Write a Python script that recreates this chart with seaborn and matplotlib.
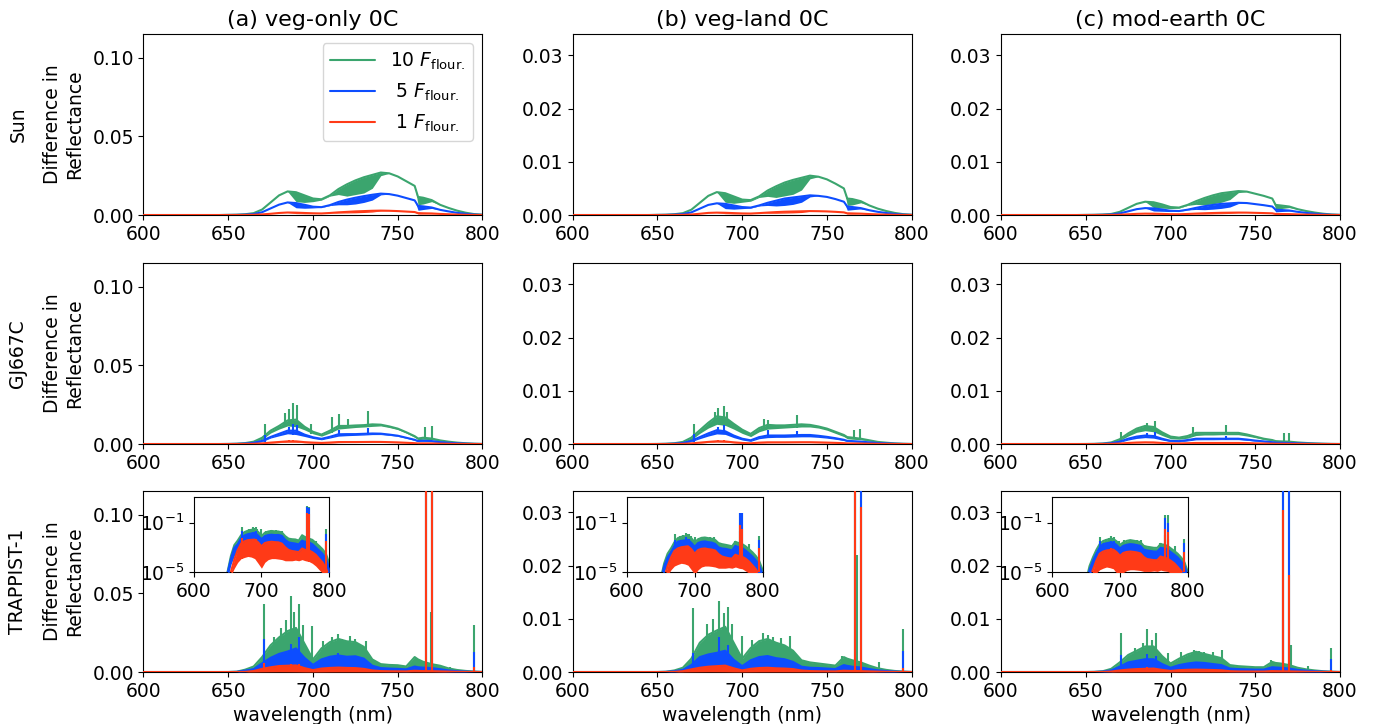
import numpy as np
import matplotlib
matplotlib.use("Agg")
import matplotlib.pyplot as plt
import seaborn as sns
from matplotlib.ticker import NullLocator, FormatStrFormatter

sns.set_style("ticks", {"axes.edgecolor": "black", "text.color": "black",
                        "xtick.color": "black", "ytick.color": "black",
                        "axes.labelcolor": "black"})
plt.rcParams["font.family"] = ["DejaVu Sans"]
plt.rcParams["font.size"] = 13.5

# ---------------- data (values in units of 1e-3 reflectance) ----------------
SCALE = 1e-3
WL = [600, 645, 650, 655, 660, 665, 670, 675, 680, 685, 690, 695, 700, 705, 710,
      715, 720, 725, 730, 735, 740, 745, 750, 755, 760, 762, 765, 770, 775, 780,
      785, 790, 795, 800]

COLUMN_TITLES = ["(a) veg-only 0C", "(b) veg-land 0C", "(c) mod-earth 0C"]
STARS = ["Sun", "GJ667C", "TRAPPIST-1"]
SERIES_LABELS = ["10 $F_{\\rm flour.}$", " 5 $F_{\\rm flour.}$", " 1 $F_{\\rm flour.}$"]
COLORS = ["#3BA56E", "#0D4DFF", "#FF3A17"]
YMAX = [0.115, 0.034, 0.034]
Y_TICKS = [[0.0, 0.05, 0.10], [0.0, 0.01, 0.02, 0.03], [0.0, 0.01, 0.02, 0.03]]
X_TICKS = [600, 650, 700, 750, 800]

# --- Sun ---
SUN_A_G_HI = [0, 0, 0.1, 0.2, 0.5, 1.2, 3.5, 8.0, 12.5, 15.0, 14.5, 12.5, 10.5, 10.0, 12.5, 16.5, 19.5, 22.0, 24.0, 25.5, 27.0, 26.5, 24.5, 21.5, 18.5, 11.5, 11.0, 9.5, 6.5, 4.5, 2.8, 1.5, 0.6, 0.2]
SUN_A_G_LO = [0, 0, 0.1, 0.2, 0.5, 1.2, 3.5, 8.0, 12.5, 15.0, 8.5, 8.0, 8.5, 9.5, 12.0, 13.0, 12.0, 13.0, 14.0, 17.0, 25.0, 26.5, 24.5, 21.5, 18.5, 6.5, 7.0, 8.5, 6.5, 4.5, 2.8, 1.5, 0.6, 0.2]
SUN_A_B_HI = [0, 0, 0.05, 0.1, 0.25, 0.6, 1.8, 4.2, 6.6, 8.0, 7.6, 6.5, 5.3, 5.0, 6.3, 8.3, 9.8, 11.0, 12.0, 12.9, 13.6, 13.3, 12.3, 10.8, 9.3, 5.8, 5.5, 4.8, 3.3, 2.3, 1.4, 0.8, 0.3, 0.1]
SUN_A_B_LO = [0, 0, 0.05, 0.1, 0.25, 0.6, 1.8, 4.2, 6.6, 8.0, 4.6, 4.3, 4.5, 4.8, 6.0, 6.5, 6.5, 7.0, 8.0, 9.5, 12.8, 13.3, 12.3, 10.8, 9.3, 3.0, 3.5, 4.2, 3.3, 2.3, 1.4, 0.8, 0.3, 0.1]
SUN_A_R_HI = [0, 0, 0.01, 0.02, 0.05, 0.15, 0.4, 0.8, 1.3, 1.6, 1.5, 1.3, 1.1, 1.0, 1.3, 1.7, 2.0, 2.3, 2.5, 2.7, 2.8, 2.7, 2.5, 2.2, 1.9, 1.2, 1.1, 1.0, 0.7, 0.5, 0.3, 0.15, 0.06, 0.02]
SUN_A_R_LO = [0, 0, 0.01, 0.02, 0.05, 0.15, 0.4, 0.8, 1.3, 1.6, 0.9, 0.8, 0.9, 0.95, 1.2, 1.3, 1.3, 1.4, 1.6, 1.9, 2.6, 2.7, 2.5, 2.2, 1.9, 0.6, 0.7, 0.8, 0.7, 0.5, 0.3, 0.15, 0.06, 0.02]

SUN_B_G_HI = [0, 0, 0.03, 0.06, 0.15, 0.35, 1.0, 2.3, 3.6, 4.3, 4.1, 3.5, 2.9, 2.8, 3.5, 4.6, 5.4, 6.1, 6.6, 7.0, 7.4, 7.2, 6.7, 5.9, 5.0, 3.1, 3.0, 2.6, 1.8, 1.2, 0.75, 0.4, 0.16, 0.05]
SUN_B_G_LO = [0, 0, 0.03, 0.06, 0.15, 0.35, 1.0, 2.3, 3.6, 4.3, 2.4, 2.2, 2.4, 2.6, 3.3, 3.5, 3.3, 3.6, 3.9, 4.7, 6.8, 7.2, 6.7, 5.9, 5.0, 1.8, 1.9, 2.3, 1.8, 1.2, 0.75, 0.4, 0.16, 0.05]
SUN_B_B_HI = [0, 0, 0.015, 0.03, 0.08, 0.18, 0.5, 1.2, 1.9, 2.2, 2.1, 1.8, 1.5, 1.4, 1.8, 2.3, 2.7, 3.1, 3.3, 3.5, 3.7, 3.6, 3.4, 3.0, 2.5, 1.6, 1.5, 1.3, 0.9, 0.6, 0.38, 0.2, 0.08, 0.03]
SUN_B_B_LO = [0, 0, 0.015, 0.03, 0.08, 0.18, 0.5, 1.2, 1.9, 2.2, 1.2, 1.1, 1.2, 1.3, 1.7, 1.8, 1.7, 1.8, 2.0, 2.4, 3.4, 3.6, 3.4, 3.0, 2.5, 0.9, 1.0, 1.15, 0.9, 0.6, 0.38, 0.2, 0.08, 0.03]
SUN_B_R_HI = [0, 0, 0.003, 0.006, 0.016, 0.036, 0.1, 0.24, 0.4, 0.45, 0.42, 0.36, 0.3, 0.28, 0.36, 0.46, 0.55, 0.62, 0.66, 0.7, 0.74, 0.72, 0.68, 0.6, 0.5, 0.32, 0.3, 0.26, 0.18, 0.12, 0.08, 0.04, 0.016, 0.006]
SUN_B_R_LO = [0, 0, 0.003, 0.006, 0.016, 0.036, 0.1, 0.24, 0.4, 0.45, 0.25, 0.22, 0.24, 0.26, 0.34, 0.35, 0.33, 0.36, 0.4, 0.47, 0.7, 0.72, 0.68, 0.6, 0.5, 0.18, 0.19, 0.23, 0.18, 0.12, 0.08, 0.04, 0.016, 0.006]

SUN_C_G_HI = [0, 0, 0.02, 0.04, 0.09, 0.2, 0.6, 1.35, 2.1, 2.5, 2.4, 2.0, 1.5, 1.4, 1.9, 2.6, 3.2, 3.7, 4.1, 4.3, 4.5, 4.4, 4.0, 3.6, 3.1, 1.9, 1.8, 1.6, 1.1, 0.75, 0.47, 0.25, 0.1, 0.03]
SUN_C_G_LO = [0, 0, 0.02, 0.04, 0.09, 0.2, 0.6, 1.35, 2.1, 2.5, 1.4, 1.3, 1.2, 1.3, 1.8, 2.0, 1.9, 2.1, 2.4, 2.9, 4.2, 4.4, 4.0, 3.6, 3.1, 1.1, 1.2, 1.4, 1.1, 0.75, 0.47, 0.25, 0.1, 0.03]
SUN_C_B_HI = [0, 0, 0.01, 0.02, 0.045, 0.1, 0.3, 0.7, 1.1, 1.3, 1.25, 1.05, 0.8, 0.75, 1.0, 1.35, 1.65, 1.9, 2.1, 2.2, 2.3, 2.25, 2.05, 1.85, 1.6, 1.0, 0.95, 0.85, 0.6, 0.4, 0.25, 0.13, 0.05, 0.02]
SUN_C_B_LO = [0, 0, 0.01, 0.02, 0.045, 0.1, 0.3, 0.7, 1.1, 1.3, 0.75, 0.7, 0.65, 0.7, 0.95, 1.05, 1.0, 1.1, 1.25, 1.5, 2.15, 2.25, 2.05, 1.85, 1.6, 0.6, 0.65, 0.75, 0.6, 0.4, 0.25, 0.13, 0.05, 0.02]
SUN_C_R_HI = [0, 0, 0.002, 0.004, 0.009, 0.02, 0.06, 0.14, 0.22, 0.26, 0.25, 0.21, 0.16, 0.15, 0.2, 0.27, 0.33, 0.38, 0.42, 0.44, 0.46, 0.45, 0.41, 0.37, 0.32, 0.2, 0.19, 0.17, 0.12, 0.08, 0.05, 0.026, 0.01, 0.004]
SUN_C_R_LO = [0, 0, 0.002, 0.004, 0.009, 0.02, 0.06, 0.14, 0.22, 0.26, 0.15, 0.14, 0.13, 0.14, 0.19, 0.21, 0.2, 0.22, 0.25, 0.3, 0.43, 0.45, 0.41, 0.37, 0.32, 0.12, 0.13, 0.15, 0.12, 0.08, 0.05, 0.026, 0.01, 0.004]

# --- GJ667C ---
GJ_A_G_HI = [0, 0, 0.05, 0.2, 0.6, 1.5, 4.0, 8.5, 11.5, 15.0, 15.5, 11.0, 7.8, 6.0, 8.5, 11.5, 11.5, 11.8, 12.0, 12.5, 12.3, 11.2, 9.8, 7.5, 5.0, 3.5, 4.0, 3.5, 2.3, 1.5, 0.9, 0.5, 0.2, 0.05]
GJ_A_G_LO = [0, 0, 0.05, 0.2, 0.6, 1.2, 3.0, 7.0, 9.5, 11.5, 11.0, 9.0, 6.5, 5.0, 7.0, 9.5, 10.0, 10.5, 10.8, 11.2, 11.5, 10.5, 9.2, 7.0, 4.3, 2.8, 3.0, 2.8, 2.0, 1.3, 0.8, 0.45, 0.2, 0.05]
GJ_A_B_HI = [0, 0, 0.03, 0.1, 0.3, 0.8, 2.0, 4.5, 6.5, 8.5, 8.5, 6.0, 4.3, 3.3, 4.6, 6.2, 6.3, 6.3, 6.5, 6.7, 6.6, 6.0, 5.3, 4.0, 2.7, 1.9, 2.1, 1.9, 1.2, 0.8, 0.5, 0.25, 0.1, 0.03]
GJ_A_B_LO = [0, 0, 0.03, 0.1, 0.3, 0.6, 1.5, 3.8, 5.2, 6.5, 6.0, 4.8, 3.5, 2.7, 3.8, 5.0, 5.3, 5.5, 5.7, 6.0, 6.0, 5.5, 4.9, 3.7, 2.3, 1.5, 1.6, 1.5, 1.0, 0.7, 0.45, 0.22, 0.1, 0.03]
GJ_A_R_HI = [0, 0, 0.006, 0.02, 0.06, 0.15, 0.4, 0.9, 1.3, 1.7, 1.7, 1.2, 0.9, 0.7, 0.95, 1.25, 1.27, 1.27, 1.3, 1.35, 1.33, 1.2, 1.05, 0.8, 0.55, 0.38, 0.42, 0.38, 0.25, 0.16, 0.1, 0.05, 0.02, 0.006]
GJ_A_R_LO = [0, 0, 0.006, 0.02, 0.06, 0.1, 0.28, 0.65, 0.9, 1.2, 1.15, 0.85, 0.65, 0.5, 0.7, 0.9, 0.95, 0.95, 1.0, 1.05, 1.05, 0.95, 0.85, 0.65, 0.42, 0.28, 0.3, 0.28, 0.2, 0.13, 0.08, 0.04, 0.02, 0.006]
GJ_A_G_SPK = [(671.5, 13.0), (683.5, 20.0), (686.0, 22.0), (688.0, 26.0), (690.5, 25.0), (699.0, 13.0), (711.5, 17.0), (715.5, 19.0), (720.5, 16.0), (732.5, 21.0), (766.0, 11.0), (770.0, 11.5)]
GJ_A_B_SPK = [(671.5, 5.5), (686.0, 11.0), (688.0, 13.0), (690.5, 12.0), (715.5, 9.0), (732.5, 10.5)]
GJ_A_R_SPK = [(686.0, 2.3), (688.0, 2.6)]

GJ_B_G_HI = [0, 0, 0.01, 0.05, 0.15, 0.4, 1.2, 2.6, 4.0, 5.2, 5.0, 3.8, 2.7, 1.9, 3.0, 3.6, 3.5, 3.5, 3.6, 3.7, 3.6, 3.3, 2.9, 2.3, 1.7, 1.3, 1.2, 1.0, 0.7, 0.4, 0.25, 0.12, 0.05, 0.01]
GJ_B_G_LO = [0, 0, 0.01, 0.05, 0.15, 0.3, 0.8, 2.0, 3.0, 3.7, 3.5, 2.8, 2.0, 1.4, 2.3, 2.8, 2.9, 3.0, 3.1, 3.2, 3.2, 3.0, 2.6, 2.0, 1.4, 1.0, 0.9, 0.8, 0.6, 0.35, 0.22, 0.1, 0.05, 0.01]
GJ_B_B_HI = [0, 0, 0.005, 0.02, 0.07, 0.2, 0.6, 1.3, 2.0, 2.6, 2.4, 1.6, 1.0, 0.7, 1.3, 1.6, 1.6, 1.6, 1.65, 1.7, 1.7, 1.55, 1.35, 1.1, 0.8, 0.6, 0.55, 0.45, 0.32, 0.2, 0.12, 0.06, 0.02, 0.005]
GJ_B_B_LO = [0, 0, 0.005, 0.02, 0.07, 0.15, 0.45, 1.0, 1.5, 1.9, 1.8, 1.2, 0.75, 0.5, 1.0, 1.2, 1.25, 1.25, 1.3, 1.35, 1.35, 1.25, 1.1, 0.9, 0.65, 0.48, 0.44, 0.36, 0.26, 0.16, 0.1, 0.05, 0.02, 0.005]
GJ_B_R_HI = [0, 0, 0.001, 0.004, 0.014, 0.04, 0.12, 0.26, 0.4, 0.52, 0.48, 0.32, 0.2, 0.14, 0.26, 0.32, 0.32, 0.32, 0.33, 0.34, 0.34, 0.31, 0.27, 0.22, 0.16, 0.12, 0.11, 0.09, 0.06, 0.04, 0.024, 0.012, 0.004, 0.001]
GJ_B_R_LO = [0, 0, 0.001, 0.004, 0.014, 0.03, 0.09, 0.19, 0.3, 0.38, 0.35, 0.24, 0.15, 0.1, 0.19, 0.24, 0.25, 0.25, 0.26, 0.27, 0.27, 0.25, 0.22, 0.18, 0.13, 0.1, 0.09, 0.07, 0.05, 0.03, 0.02, 0.01, 0.004, 0.001]
GJ_B_G_SPK = [(671.5, 3.8), (684.0, 6.0), (686.0, 6.8), (689.5, 7.1), (691.0, 6.0), (713.0, 4.7), (715.0, 4.5), (732.5, 5.5), (766.0, 2.6), (769.5, 2.9)]
GJ_B_B_SPK = [(671.5, 1.8), (686.0, 3.2), (689.5, 3.6), (715.0, 2.6), (732.5, 2.4)]
GJ_B_R_SPK = [(686.0, 0.7), (689.5, 0.8)]

GJ_C_G_HI = [0, 0, 0.01, 0.03, 0.1, 0.3, 0.9, 2.0, 2.9, 3.4, 3.2, 2.2, 1.4, 1.2, 1.5, 2.1, 2.1, 2.1, 2.1, 2.1, 2.1, 1.8, 1.4, 1.0, 0.75, 0.55, 0.5, 0.45, 0.3, 0.2, 0.12, 0.06, 0.02, 0.005]
GJ_C_G_LO = [0, 0, 0.01, 0.03, 0.1, 0.22, 0.65, 1.5, 2.2, 2.5, 2.3, 1.6, 1.0, 0.9, 1.1, 1.6, 1.7, 1.7, 1.75, 1.75, 1.75, 1.5, 1.2, 0.85, 0.6, 0.45, 0.4, 0.36, 0.25, 0.17, 0.1, 0.05, 0.02, 0.005]
GJ_C_B_HI = [0, 0, 0.0, 0.01, 0.05, 0.15, 0.45, 1.0, 1.4, 1.6, 1.5, 1.0, 0.6, 0.55, 0.75, 1.0, 1.0, 1.0, 1.0, 1.0, 1.0, 0.85, 0.65, 0.5, 0.35, 0.26, 0.24, 0.2, 0.14, 0.09, 0.05, 0.025, 0.01, 0.003]
GJ_C_B_LO = [0, 0, 0.0, 0.01, 0.05, 0.11, 0.33, 0.75, 1.05, 1.2, 1.1, 0.75, 0.45, 0.42, 0.58, 0.78, 0.8, 0.8, 0.82, 0.82, 0.82, 0.7, 0.55, 0.42, 0.29, 0.22, 0.2, 0.17, 0.12, 0.08, 0.045, 0.022, 0.01, 0.003]
GJ_C_R_HI = [0, 0, 0.0, 0.002, 0.01, 0.03, 0.09, 0.2, 0.28, 0.32, 0.3, 0.2, 0.12, 0.11, 0.15, 0.2, 0.2, 0.2, 0.2, 0.2, 0.2, 0.17, 0.13, 0.1, 0.07, 0.05, 0.048, 0.04, 0.028, 0.018, 0.01, 0.005, 0.002, 0.0006]
GJ_C_R_LO = [0, 0, 0.0, 0.002, 0.01, 0.022, 0.07, 0.15, 0.21, 0.24, 0.22, 0.15, 0.09, 0.08, 0.11, 0.15, 0.16, 0.16, 0.16, 0.16, 0.16, 0.14, 0.1, 0.08, 0.055, 0.04, 0.038, 0.032, 0.022, 0.015, 0.008, 0.004, 0.002, 0.0006]
GJ_C_G_SPK = [(670.5, 2.3), (686.0, 3.9), (691.0, 4.4), (713.5, 3.2), (732.5, 3.6), (767.0, 2.0), (770.0, 2.0)]
GJ_C_B_SPK = [(686.0, 2.0), (691.0, 2.3), (732.5, 1.5)]
GJ_C_R_SPK = []

# --- TRAPPIST-1 ---
TR_A_G_HI = [0.0001, 0.0001, 0.01, 0.2, 1.5, 3.5, 9.5, 17.0, 22.0, 26.0, 28.0, 18.0, 8.0, 15.0, 19.0, 21.0, 19.5, 19.0, 16.0, 8.0, 5.0, 4.5, 4.3, 3.5, 9.5, 8.0, 6.5, 5.0, 4.0, 2.3, 1.3, 0.7, 0.3, 0.05]
TR_A_G_LO = [0.0001, 0.0001, 0.005, 0.08, 0.5, 1.0, 2.0, 3.0, 3.5, 4.0, 4.0, 3.0, 1.5, 2.5, 3.0, 3.0, 3.0, 3.0, 2.5, 1.5, 1.0, 0.9, 0.8, 0.7, 1.5, 1.3, 1.2, 1.0, 0.7, 0.4, 0.2, 0.1, 0.04, 0.01]
TR_A_B_HI = [0.0001, 0.0001, 0.008, 0.12, 0.9, 1.8, 5.5, 9.0, 11.5, 13.0, 15.0, 9.0, 4.5, 8.0, 9.7, 10.5, 9.7, 10.0, 8.5, 4.0, 2.5, 2.2, 2.0, 1.7, 3.5, 3.0, 2.8, 2.5, 1.8, 1.0, 0.55, 0.3, 0.12, 0.02]
TR_A_B_LO = [0.0001, 0.0001, 0.003, 0.04, 0.2, 0.4, 0.8, 1.0, 1.2, 1.3, 1.2, 0.8, 0.4, 0.7, 0.8, 0.8, 0.8, 0.8, 0.7, 0.4, 0.3, 0.25, 0.25, 0.2, 0.4, 0.35, 0.3, 0.3, 0.2, 0.12, 0.07, 0.04, 0.015, 0.004]
TR_A_R_HI = [0.0001, 0.0001, 0.001, 0.01, 0.1, 0.6, 2.0, 3.0, 3.8, 4.0, 4.2, 2.5, 1.2, 2.2, 2.6, 2.8, 2.6, 2.5, 2.0, 1.0, 0.6, 0.5, 0.45, 0.4, 0.8, 0.7, 0.6, 0.55, 0.4, 0.25, 0.12, 0.06, 0.02, 0.004]
TR_A_R_LO = [0.0001, 0.0001, 0.0005, 0.005, 0.02, 0.06, 0.12, 0.15, 0.18, 0.16, 0.12, 0.05, 0.02, 0.06, 0.1, 0.12, 0.12, 0.11, 0.1, 0.08, 0.08, 0.08, 0.09, 0.08, 0.1, 0.09, 0.08, 0.07, 0.05, 0.03, 0.015, 0.008, 0.003, 0.001]
TR_A_G_SPK = [(671.0, 43.0), (677.0, 22.0), (681.0, 28.0), (684.0, 33.0), (687.0, 48.0), (689.0, 38.0), (692.0, 43.0), (694.0, 30.0), (699.5, 29.0), (706.0, 20.0), (711.0, 22.0), (714.5, 24.0), (717.0, 21.0), (722.0, 23.0), (725.0, 21.0), (731.0, 20.0), (766.5, 2200.0), (769.5, 38.0), (770.0, 1800.0), (781.0, 3.0), (795.0, 30.0)]
TR_A_B_SPK = [(671.0, 21.0), (687.0, 18.0), (692.0, 22.0), (714.5, 12.0), (766.5, 1700.0), (770.3, 1500.0), (795.0, 13.0)]
TR_A_R_SPK = [(671.0, 6.0), (687.0, 5.0), (692.0, 5.0), (766.5, 560.0), (770.0, 500.0), (795.0, 3.4)]

TR_B_G_HI = [0.0001, 0.0001, 0.003, 0.05, 0.3, 0.8, 2.5, 5.5, 7.0, 7.8, 8.5, 5.5, 2.5, 4.5, 5.8, 6.2, 5.5, 5.0, 4.0, 2.2, 1.8, 1.6, 1.4, 1.2, 2.8, 2.5, 2.2, 1.8, 1.2, 0.7, 0.4, 0.2, 0.08, 0.015]
TR_B_G_LO = [0.0001, 0.0001, 0.001, 0.02, 0.1, 0.2, 0.5, 0.8, 1.0, 1.1, 1.1, 0.8, 0.4, 0.7, 0.8, 0.8, 0.8, 0.75, 0.6, 0.4, 0.3, 0.28, 0.25, 0.22, 0.45, 0.4, 0.35, 0.3, 0.2, 0.12, 0.07, 0.035, 0.014, 0.003]
TR_B_B_HI = [0.0001, 0.0001, 0.002, 0.03, 0.15, 0.4, 1.3, 2.8, 3.3, 3.6, 4.0, 2.3, 1.1, 2.2, 2.8, 3.0, 2.6, 2.4, 1.9, 1.0, 0.8, 0.75, 0.65, 0.55, 1.3, 1.15, 1.0, 0.85, 0.55, 0.32, 0.18, 0.09, 0.035, 0.007]
TR_B_B_LO = [0.0001, 0.0001, 0.0008, 0.01, 0.04, 0.08, 0.2, 0.3, 0.35, 0.35, 0.33, 0.22, 0.1, 0.2, 0.25, 0.25, 0.23, 0.22, 0.18, 0.1, 0.09, 0.08, 0.08, 0.07, 0.12, 0.11, 0.1, 0.09, 0.06, 0.035, 0.02, 0.01, 0.004, 0.001]
TR_B_R_HI = [0.0001, 0.0001, 0.0003, 0.003, 0.03, 0.15, 0.5, 0.8, 1.0, 1.1, 1.2, 0.7, 0.3, 0.6, 0.75, 0.8, 0.7, 0.65, 0.55, 0.28, 0.18, 0.15, 0.13, 0.12, 0.25, 0.22, 0.2, 0.17, 0.12, 0.07, 0.035, 0.017, 0.006, 0.0012]
TR_B_R_LO = [0.0001, 0.0001, 0.0001, 0.001, 0.005, 0.015, 0.03, 0.04, 0.05, 0.045, 0.035, 0.015, 0.006, 0.015, 0.025, 0.03, 0.03, 0.028, 0.025, 0.02, 0.02, 0.02, 0.022, 0.02, 0.025, 0.023, 0.02, 0.018, 0.012, 0.008, 0.004, 0.002, 0.0008, 0.0002]
TR_B_G_SPK = [(671.0, 12.0), (679.0, 9.0), (683.0, 10.0), (686.5, 13.4), (689.0, 11.0), (691.5, 12.3), (694.0, 9.0), (700.0, 6.7), (706.0, 6.0), (712.5, 7.3), (715.0, 7.0), (718.0, 6.5), (723.0, 6.3), (728.5, 6.8), (759.0, 3.0), (766.5, 600.0), (767.5, 22.0), (770.0, 600.0), (780.5, 1.8), (795.0, 8.1)]
TR_B_B_SPK = [(671.0, 3.6), (686.5, 6.6), (691.5, 5.0), (766.5, 640.0), (770.0, 640.0), (795.0, 3.9)]
TR_B_R_SPK = [(686.5, 1.3), (766.5, 65.0), (770.0, 31.0), (795.0, 0.8)]

TR_C_G_HI = [0.0001, 0.0001, 0.002, 0.03, 0.15, 0.6, 1.8, 3.2, 4.0, 4.8, 4.8, 3.0, 1.6, 2.5, 3.3, 3.8, 3.4, 3.0, 2.6, 1.3, 1.1, 1.0, 0.9, 0.9, 1.9, 1.7, 1.6, 1.3, 0.8, 0.5, 0.3, 0.15, 0.06, 0.01]
TR_C_G_LO = [0.0001, 0.0001, 0.0007, 0.01, 0.05, 0.12, 0.3, 0.45, 0.55, 0.6, 0.6, 0.4, 0.22, 0.35, 0.45, 0.5, 0.45, 0.4, 0.35, 0.2, 0.18, 0.17, 0.16, 0.15, 0.3, 0.27, 0.25, 0.2, 0.13, 0.08, 0.05, 0.025, 0.01, 0.002]
TR_C_B_HI = [0.0001, 0.0001, 0.001, 0.015, 0.08, 0.3, 1.0, 1.8, 2.1, 2.4, 2.4, 1.5, 0.8, 1.3, 1.6, 1.8, 1.7, 1.5, 1.3, 0.65, 0.55, 0.5, 0.45, 0.45, 0.9, 0.85, 0.8, 0.65, 0.4, 0.25, 0.15, 0.07, 0.03, 0.005]
TR_C_B_LO = [0.0001, 0.0001, 0.0004, 0.005, 0.02, 0.05, 0.12, 0.18, 0.2, 0.22, 0.2, 0.14, 0.07, 0.12, 0.14, 0.15, 0.14, 0.13, 0.11, 0.06, 0.05, 0.05, 0.045, 0.045, 0.08, 0.075, 0.07, 0.06, 0.04, 0.025, 0.015, 0.007, 0.003, 0.0006]
TR_C_R_HI = [0.0001, 0.0001, 0.0002, 0.002, 0.015, 0.08, 0.3, 0.45, 0.55, 0.6, 0.65, 0.4, 0.2, 0.35, 0.42, 0.45, 0.42, 0.38, 0.32, 0.16, 0.11, 0.1, 0.09, 0.09, 0.18, 0.16, 0.15, 0.12, 0.08, 0.05, 0.025, 0.012, 0.005, 0.001]
TR_C_R_LO = [0.0001, 0.0001, 0.0001, 0.0006, 0.003, 0.008, 0.015, 0.02, 0.025, 0.022, 0.018, 0.008, 0.004, 0.009, 0.013, 0.015, 0.015, 0.014, 0.013, 0.011, 0.011, 0.011, 0.012, 0.011, 0.014, 0.013, 0.012, 0.011, 0.008, 0.005, 0.003, 0.0015, 0.0006, 0.0001]
TR_C_G_SPK = [(671.0, 7.3), (679.0, 4.5), (684.0, 5.5), (686.0, 8.1), (689.0, 6.0), (691.5, 7.3), (698.5, 3.5), (706.0, 3.8), (714.0, 4.2), (717.0, 4.0), (720.0, 3.8), (725.0, 3.8), (730.5, 4.2), (759.5, 2.2), (766.2, 9.7), (766.5, 410.0), (770.0, 400.0), (770.8, 5.0), (781.0, 1.2), (794.7, 4.5)]
TR_C_B_SPK = [(671.0, 3.2), (686.0, 3.3), (691.5, 3.0), (766.5, 220.0), (770.0, 100.0), (794.7, 2.4)]
TR_C_R_SPK = [(686.0, 0.9), (766.5, 30.5), (770.0, 18.3), (794.7, 0.4)]

PANELS = {
    (0, 0): [(SUN_A_G_HI, SUN_A_G_LO, []), (SUN_A_B_HI, SUN_A_B_LO, []), (SUN_A_R_HI, SUN_A_R_LO, [])],
    (0, 1): [(SUN_B_G_HI, SUN_B_G_LO, []), (SUN_B_B_HI, SUN_B_B_LO, []), (SUN_B_R_HI, SUN_B_R_LO, [])],
    (0, 2): [(SUN_C_G_HI, SUN_C_G_LO, []), (SUN_C_B_HI, SUN_C_B_LO, []), (SUN_C_R_HI, SUN_C_R_LO, [])],
    (1, 0): [(GJ_A_G_HI, GJ_A_G_LO, GJ_A_G_SPK), (GJ_A_B_HI, GJ_A_B_LO, GJ_A_B_SPK), (GJ_A_R_HI, GJ_A_R_LO, GJ_A_R_SPK)],
    (1, 1): [(GJ_B_G_HI, GJ_B_G_LO, GJ_B_G_SPK), (GJ_B_B_HI, GJ_B_B_LO, GJ_B_B_SPK), (GJ_B_R_HI, GJ_B_R_LO, GJ_B_R_SPK)],
    (1, 2): [(GJ_C_G_HI, GJ_C_G_LO, GJ_C_G_SPK), (GJ_C_B_HI, GJ_C_B_LO, GJ_C_B_SPK), (GJ_C_R_HI, GJ_C_R_LO, GJ_C_R_SPK)],
    (2, 0): [(TR_A_G_HI, TR_A_G_LO, TR_A_G_SPK), (TR_A_B_HI, TR_A_B_LO, TR_A_B_SPK), (TR_A_R_HI, TR_A_R_LO, TR_A_R_SPK)],
    (2, 1): [(TR_B_G_HI, TR_B_G_LO, TR_B_G_SPK), (TR_B_B_HI, TR_B_B_LO, TR_B_B_SPK), (TR_B_R_HI, TR_B_R_LO, TR_B_R_SPK)],
    (2, 2): [(TR_C_G_HI, TR_C_G_LO, TR_C_G_SPK), (TR_C_B_HI, TR_C_B_LO, TR_C_B_SPK), (TR_C_R_HI, TR_C_R_LO, TR_C_R_SPK)],
}

# ---------------- layout ----------------
LEFTS = [0.1045, 0.4171, 0.7291]
BOTTOMS = [0.703, 0.3867, 0.0718]
AX_W, AX_H = 0.2469, 0.25
INSET_X = [0.148, 0.160, 0.151]
LW = 1.5
FS = 13.5


def draw_series(ax, hi, lo, spikes, color, k, label=None):
    wl = np.asarray(WL, dtype=float)
    hi_v = np.asarray(hi) * SCALE
    lo_v = np.asarray(lo) * SCALE
    z = 2 + k
    ax.fill_between(wl, lo_v, hi_v, color=color, linewidth=0, zorder=z)
    sns.lineplot(x=wl, y=hi_v, ax=ax, color=color, linewidth=LW, label=label,
                 zorder=z + 0.2)
    if spikes:
        sx = [s[0] for s in spikes]
        sy = [s[1] * SCALE for s in spikes]
        base = [lo_v[int(np.argmin(np.abs(wl - x)))] for x in sx]
        ax.vlines(sx, base, sy, color=color, linewidth=LW, zorder=z + 0.1)


fig = plt.figure(figsize=(13.73, 7.24), dpi=100)

for r in range(3):
    for c in range(3):
        ax = fig.add_axes([LEFTS[c], BOTTOMS[r], AX_W, AX_H])
        for k, (hi, lo, spk) in enumerate(PANELS[(r, c)]):
            lab = SERIES_LABELS[k] if (r == 0 and c == 0) else None
            draw_series(ax, hi, lo, spk, COLORS[k], k, label=lab)
        ax.set_xlim(600, 800)
        ax.set_ylim(0, YMAX[c])
        ax.set_xticks(X_TICKS)
        ax.set_yticks(Y_TICKS[c])
        ax.yaxis.set_major_formatter(FormatStrFormatter("%.2f"))
        ax.tick_params(labelsize=FS, direction="out", length=3.5, width=0.8)
        for sp in ax.spines.values():
            sp.set_linewidth(0.8)
            sp.set_color("black")
        if r == 0:
            ax.set_title(COLUMN_TITLES[c], fontsize=16)
        if r == 2:
            ax.set_xlabel("wavelength (nm)", fontsize=FS)
        else:
            ax.set_xlabel("")
        if c == 0:
            ax.set_ylabel("Difference in\nReflectance", fontsize=FS, labelpad=6)
            fig.text(0.0131, BOTTOMS[r] + AX_H / 2, STARS[r], rotation=90,
                     ha="center", va="center", fontsize=FS)
        else:
            ax.set_ylabel("")
        if r == 0 and c == 0:
            leg = ax.legend(loc="upper right", fontsize=FS, handlelength=2.4,
                            frameon=True, fancybox=True)
            leg.get_frame().set_edgecolor("0.8")
        elif ax.get_legend() is not None:
            ax.get_legend().remove()

        if r == 2:
            axins = ax.inset_axes([INSET_X[c], 0.553, 0.40, 0.414])
            axins.set_zorder(10)
            for k, (hi, lo, spk) in enumerate(PANELS[(r, c)]):
                draw_series(axins, hi, lo, spk, COLORS[k], k)
            axins.set_yscale("log")
            axins.set_xlim(600, 800)
            axins.set_ylim(1e-5, 12)
            axins.set_xticks([600, 700, 800])
            axins.set_yticks([1e-5, 1e-1])
            axins.yaxis.set_minor_locator(NullLocator())
            axins.tick_params(labelsize=FS, direction="out", length=3.5, width=0.8)
            axins.set_xlabel("")
            axins.set_ylabel("")
            for sp in axins.spines.values():
                sp.set_linewidth(0.8)
                sp.set_color("black")
            if axins.get_legend() is not None:
                axins.get_legend().remove()

fig.savefig("out.png", dpi=100)
